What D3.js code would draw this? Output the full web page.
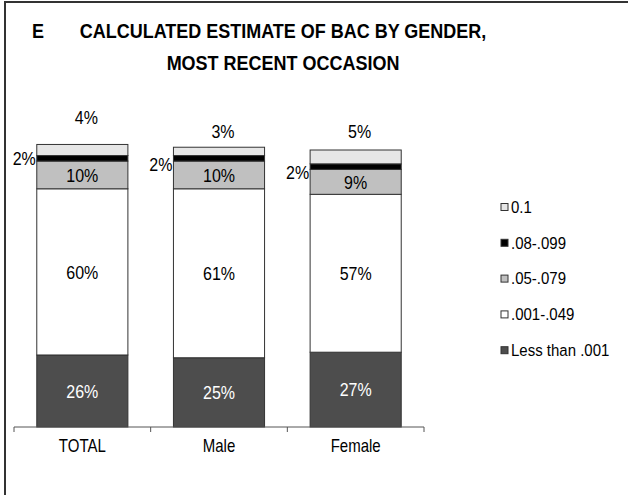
<!DOCTYPE html>
<html>
<head>
<meta charset="utf-8">
<script src="https://cdn.jsdelivr.net/npm/d3@7"></script>
<style>
  html, body { margin: 0; padding: 0; background: #fff; }
  svg { display: block; }
  text { font-family: "Liberation Sans", Arial, sans-serif; fill: #000; }
</style>
</head>
<body>
<svg id="chart" width="628" height="495"></svg>
<script>
// Categories along the x axis
const categories = ["TOTAL", "Male", "Female"];

// BAC bands, stacked bottom to top
const seriesNames = ["Less than .001", ".001-.049", ".05-.079", ".08-.099", "0.1"];

// Percent of respondents in each band, per category
const lessThan001 = [26, 25, 27];
const from001to049 = [60, 61, 57];
const from05to079 = [10, 10, 9];
const from08to099 = [2, 2, 2];
const over01 = [4, 3, 5];

const seriesValues = [lessThan001, from001to049, from05to079, from08to099, over01];
const seriesColors = ["#4d4d4d", "#ffffff", "#c0c0c0", "#000000", "#e6e6e6"];
const labelColors = ["#ffffff", "#000000", "#000000", "#000000", "#000000"];

// Vertical nudges for the small top and side labels, per category
const topLabelLift = [27, 16, 19];
const sideLabelDrop = [0, 6, 6];

// Text is set in a tall, slightly condensed style
const TALL = 1.2;
function place(sel, fx, fy, sy) {
  sel.attr("transform", (d, i) => `translate(${fx(d, i)},${fy(d, i)}) scale(1,${sy})`);
}

const svg = d3.select("#chart");

// Outer frame
svg.append("path")
  .attr("d", "M5,495 V2 H628")
  .attr("fill", "none")
  .attr("stroke", "#333")
  .attr("stroke-width", 2);

// Title
svg.append("text")
  .attr("transform", "translate(32,38) scale(1,1.15)")
  .attr("font-size", 18).attr("font-weight", "bold")
  .text("E");
const titleLines = ["CALCULATED ESTIMATE OF BAC BY GENDER,", "MOST RECENT OCCASION"];
svg.selectAll("text.title").data(titleLines).enter().append("text")
  .attr("class", "title")
  .call(place, () => 283, (d, i) => 38 + i * 32, 1.15)
  .attr("text-anchor", "middle")
  .attr("font-size", 18).attr("font-weight", "bold")
  .text(d => d);

// Scales
const x = d3.scaleBand()
  .domain(categories)
  .range([14, 424])
  .paddingInner(1 / 3)
  .paddingOuter(1 / 6);

const y = d3.scaleLinear().domain([0, 100]).range([427, 150]);

// Stack the series
const rows = categories.map((c, i) => {
  const r = { category: c };
  seriesNames.forEach((s, k) => { r[s] = seriesValues[k][i]; });
  return r;
});
const stacked = d3.stack().keys(seriesNames)(rows);

const layers = svg.append("g").selectAll("g.layer")
  .data(stacked).enter().append("g")
  .attr("class", "layer")
  .attr("fill", (d, k) => seriesColors[k]);

layers.selectAll("rect")
  .data(d => d)
  .enter().append("rect")
  .attr("x", d => x(d.data.category))
  .attr("width", x.bandwidth())
  .attr("y", d => y(d[1]))
  .attr("height", d => y(d[0]) - y(d[1]))
  .attr("stroke", "#333")
  .attr("stroke-width", 1);

// Labels inside the three large segments
stacked.slice(0, 3).forEach((layer, k) => {
  svg.append("g").selectAll("text")
    .data(layer).enter().append("text")
    .call(place, d => x(d.data.category) + x.bandwidth() / 2, d => (y(d[0]) + y(d[1])) / 2, TALL)
    .attr("dy", "0.35em")
    .attr("text-anchor", "middle")
    .attr("font-size", 16)
    .style("fill", labelColors[k])
    .text(d => (d[1] - d[0]) + "%");
});

// .08-.099 labels to the left of each bar
svg.append("g").selectAll("text")
  .data(stacked[3]).enter().append("text")
  .call(place, d => x(d.data.category) - 1, (d, i) => (y(d[0]) + y(d[1])) / 2 + sideLabelDrop[i], TALL)
  .attr("dy", "0.35em")
  .attr("text-anchor", "end")
  .attr("font-size", 16)
  .text(d => (d[1] - d[0]) + "%");

// 0.1 labels above each bar
svg.append("g").selectAll("text")
  .data(stacked[4]).enter().append("text")
  .call(place, d => x(d.data.category) + x.bandwidth() / 2 + 4, (d, i) => y(d[1]) - topLabelLift[i], TALL)
  .attr("dy", "0.35em")
  .attr("text-anchor", "middle")
  .attr("font-size", 16)
  .text(d => (d[1] - d[0]) + "%");

// Category axis with ticks between the bars
const axisG = svg.append("g").attr("transform", "translate(0,427)");
axisG.append("line")
  .attr("x1", 14).attr("x2", 424)
  .attr("stroke", "#555").attr("stroke-width", 1);
const step = x.step();
const edges = d3.range(categories.length + 1).map(i => x.range()[0] + i * step);
axisG.selectAll("line.tick").data(edges).enter().append("line")
  .attr("class", "tick")
  .attr("x1", d => d).attr("x2", d => d)
  .attr("y1", 0).attr("y2", 5)
  .attr("stroke", "#555");
axisG.selectAll("text").data(categories).enter().append("text")
  .call(place, d => x(d) + x.bandwidth() / 2, () => 18, 1.25)
  .attr("dy", "0.35em")
  .attr("text-anchor", "middle")
  .attr("font-size", 15)
  .text(d => d);

// Legend, top entry first
const legendOrder = d3.range(seriesNames.length).reverse();
const legend = svg.append("g").selectAll("g")
  .data(legendOrder).enter().append("g")
  .attr("transform", (k, i) => `translate(501,${207 + i * 35.8})`);
legend.append("rect")
  .attr("x", 0).attr("y", -3.5)
  .attr("width", 7).attr("height", 7)
  .attr("fill", k => seriesColors[k])
  .attr("stroke", "#333").attr("stroke-width", 1);
legend.append("text")
  .attr("transform", "translate(10,0) scale(1,1.1)")
  .attr("dy", "0.35em")
  .attr("font-size", 15)
  .text(k => seriesNames[k]);
</script>
</body>
</html>
